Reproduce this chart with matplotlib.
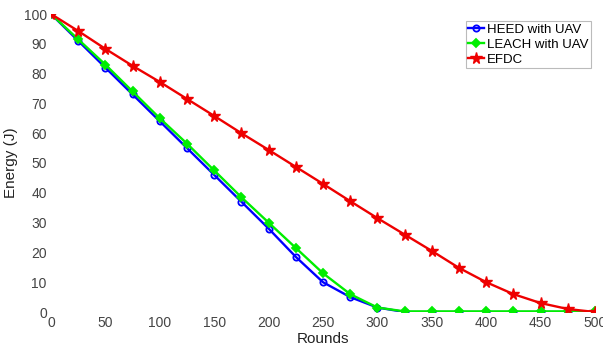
import matplotlib
matplotlib.use('Agg')
import matplotlib.pyplot as plt

plt.rcParams['font.family'] = ['Liberation Sans', 'DejaVu Sans']

rounds = [0, 25, 50, 75, 100, 125, 150, 175, 200, 225, 250, 275, 300,
          325, 350, 375, 400, 425, 450, 475, 500]
heed = [100, 91, 82, 73, 64, 55, 46, 37, 28, 18.5, 10, 5, 1.5,
        0, 0, 0, 0, 0, 0, 0, 0]
leach = [100, 91.5, 83, 74, 65, 56.5, 47.5, 38.5, 30, 21.5, 13, 6, 1.5,
         0.2, 0.2, 0.2, 0.2, 0.2, 0.2, 0.2, 0.2]
efdc = [100, 94.3, 88.3, 82.6, 77.2, 71.5, 65.8, 60, 54.4, 48.7, 43, 37.2, 31.5,
        26, 20.5, 14.8, 10, 6, 3, 1, 0]

fig = plt.figure(figsize=(6.03, 3.49), dpi=100)
ax = fig.add_axes([51/603, 37/349, 544/603, 298/349])

ax.plot(rounds, heed, color='#0000ff', marker='o', markersize=4.5, mfc='none', mew=1.3,
        lw=1.7, label='HEED with UAV')
ax.plot(rounds, leach, color='#00ee00', marker='D', markersize=4, mew=1.3,
        lw=1.7, label='LEACH with UAV')
ax.plot(rounds, efdc, color='#ee0000', marker='*', markersize=8.5,
        lw=1.7, label='EFDC')

ax.set_xlim(0, 500)
ax.set_ylim(0, 100)
ax.set_xticks(range(0, 501, 50))
ax.set_yticks(range(0, 101, 10))
for s in ax.spines.values():
    s.set_visible(False)
ax.tick_params(length=0, labelsize=10, colors='#444444', pad=3)
ax.set_xlabel('Rounds', fontsize=11, color='#222222', labelpad=1)
ax.set_ylabel('Energy (J)', fontsize=11, color='#222222', labelpad=4)

leg = ax.legend(loc='upper right', bbox_to_anchor=(1.0, 0.99), fontsize=9.5,
                frameon=True, fancybox=False, borderpad=0.2, handlelength=1.2,
                handletextpad=0.2, labelspacing=0.2, borderaxespad=0.3)
leg.get_frame().set_edgecolor('#aaaaaa')
leg.get_frame().set_linewidth(0.8)

fig.savefig('out.png', dpi=100)
